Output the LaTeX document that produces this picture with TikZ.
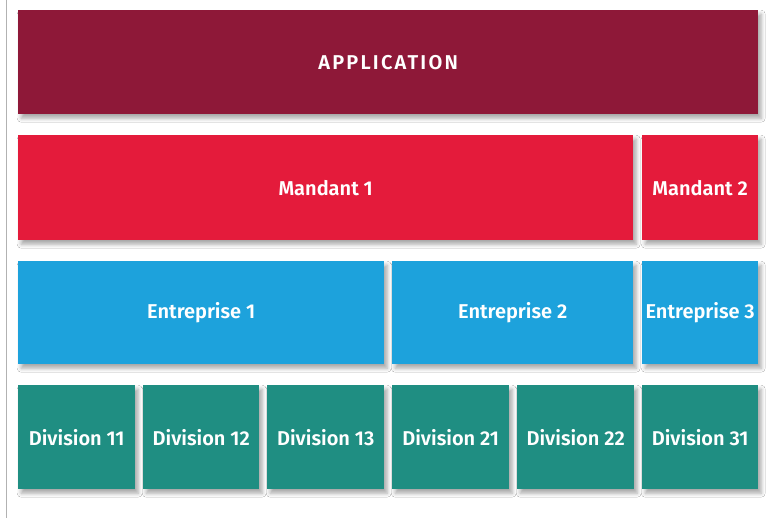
\documentclass[tikz,border=0pt]{standalone}
\usepackage{fontspec}
\setmainfont{Fira Sans}[BoldFont={Fira Sans SemiBold}]
\usetikzlibrary{shadows.blur}
\definecolor{appc}{HTML}{8E1838}
\definecolor{mandc}{HTML}{E41B3B}
\definecolor{entc}{HTML}{1DA2DC}
\definecolor{divc}{HTML}{1F8E82}
\begin{document}
\begin{tikzpicture}[x=1pt,y=-1pt,
  blk/.style={inner sep=0pt, text=white, font=\fontsize{20}{24}\selectfont\bfseries,
    blur shadow={shadow xshift=3pt, shadow yshift=-4pt, shadow blur radius=4pt, shadow opacity=35}},
  appbox/.style={blk, fill=appc, font=\fontsize{20}{24}\selectfont\bfseries\addfontfeature{LetterSpace=11}},
  mandbox/.style={blk, fill=mandc},
  entbox/.style={blk, fill=entc},
  divbox/.style={blk, fill=divc}]
\useasboundingbox (0,0) rectangle (776,518);
\fill[white] (0,0) rectangle (776,518);
\draw[gray!60, line width=0.8pt] (6.5,0) -- (6.5,518);
\newcommand{\blkat}[7]{%
  \node[#1, minimum width=#4-#2, minimum height=#5-#3, anchor=north west] (#6) at (#2,#3) {#7};}
\blkat{appbox}{18}{10}{758}{114}{app}{APPLICATION}
\blkat{mandbox}{18}{135}{633}{240}{m1}{Mandant 1}
\blkat{mandbox}{642}{135}{758}{240}{m2}{Mandant 2}
\blkat{entbox}{18}{261}{384}{364}{e1}{Entreprise 1}
\blkat{entbox}{392}{261}{633}{364}{e2}{Entreprise 2}
\blkat{entbox}{642}{261}{758}{364}{e3}{Entreprise 3}
\blkat{divbox}{18}{385}{135}{489}{d11}{Division 11}
\blkat{divbox}{143}{385}{259}{489}{d12}{Division 12}
\blkat{divbox}{267}{385}{384}{489}{d13}{Division 13}
\blkat{divbox}{392}{385}{509}{489}{d21}{Division 21}
\blkat{divbox}{517}{385}{634}{489}{d22}{Division 22}
\blkat{divbox}{642}{385}{758}{489}{d31}{Division 31}
\end{tikzpicture}
\end{document}
